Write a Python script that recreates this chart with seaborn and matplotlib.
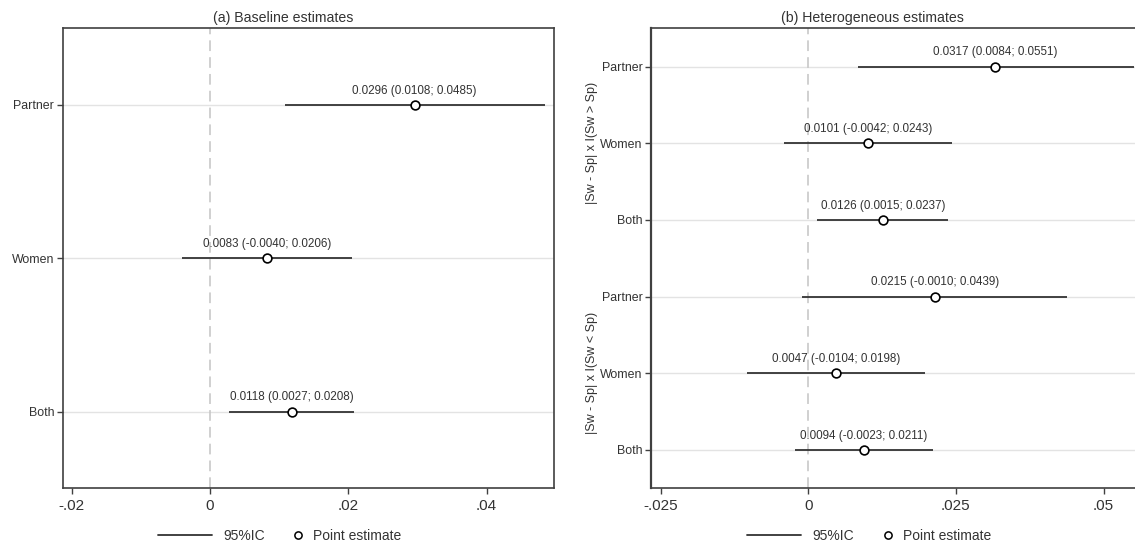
import matplotlib
matplotlib.use("Agg")
import matplotlib.pyplot as plt
from matplotlib.lines import Line2D
import seaborn as sns
import pandas as pd

# ---------------- data ----------------
cats_a = ["Partner", "Women", "Both"]
est_a = [0.0296, 0.0083, 0.0118]
lo_a = [0.0108, -0.0040, 0.0027]
hi_a = [0.0485, 0.0206, 0.0208]

cats_b = ["Partner", "Women", "Both", "Partner", "Women", "Both"]
est_b = [0.0317, 0.0101, 0.0126, 0.0215, 0.0047, 0.0094]
lo_b = [0.0084, -0.0042, 0.0015, -0.0010, -0.0104, -0.0023]
hi_b = [0.0551, 0.0243, 0.0237, 0.0439, 0.0198, 0.0211]
groups_b = ["|Sw - Sp| x I(Sw > Sp)", "|Sw - Sp| x I(Sw < Sp)"]

xticks_a = [-0.02, 0, 0.02, 0.04]
xticklabels_a = ["-.02", "0", ".02", ".04"]
xticks_b = [-0.025, 0, 0.025, 0.05]
xticklabels_b = ["-.025", "0", ".025", ".05"]

titles = ["(a) Baseline estimates", "(b) Heterogeneous estimates"]
legend_labels = ["95%IC", "Point estimate"]

# ---------------- style ----------------
sns.set_style("white")
plt.rcParams["font.family"] = ["Liberation Sans", "DejaVu Sans"]

W, H = 1135, 544
fig = plt.figure(figsize=(W / 100, H / 100), dpi=100)

def px_axes(x0, x1, y0, y1):
    return fig.add_axes([x0 / W, 1 - y1 / H, (x1 - x0) / W, (y1 - y0) / H])

ax_a = px_axes(62.7, 554, 28.3, 488.3)
ax_b = px_axes(651, 1136, 28.3, 488.3)

spine_col = "#404040"
txt_col = "#333333"
line_col = "#333333"

def draw_panel(ax, cats, est, lo, hi, xlim, xticks, xticklabels):
    n = len(cats)
    ypos = list(range(n))
    df = pd.DataFrame({"y": ypos, "est": est, "lo": lo, "hi": hi})
    for y in ypos:
        ax.axhline(y, color="#e3e3e3", lw=1.0, zorder=0)
    ax.axvline(0, color="#c4c4c4", lw=1.1, ls=(0, (7, 4)), zorder=0.5)
    ax.hlines(df["y"], df["lo"], df["hi"], color=line_col, lw=1.3, zorder=2)
    sns.scatterplot(data=df, x="est", y="y", ax=ax, marker="o", s=40,
                    facecolor="white", edgecolor="black", linewidth=1.2,
                    zorder=3, legend=False)
    for yi, e, l, h in zip(ypos, est, lo, hi):
        ax.annotate(f"{e:.4f} ({l:.4f}; {h:.4f})", xy=(e, yi),
                    xytext=(0, 6), textcoords="offset points",
                    ha="center", va="bottom", fontsize=8.4, color=txt_col)
    ax.set_xlim(*xlim)
    ax.set_ylim(n - 0.5, -0.5)
    ax.set_yticks(ypos)
    ax.set_yticklabels(cats, fontsize=8.9, color=txt_col)
    ax.set_xticks(xticks)
    ax.set_xticklabels(xticklabels, fontsize=11, color=txt_col)
    ax.set_xlabel("")
    ax.set_ylabel("")
    ax.tick_params(axis="both", which="major", direction="out", length=4,
                   width=1.0, color=spine_col, left=True, bottom=True)
    ax.tick_params(axis="y", pad=2)
    ax.tick_params(axis="x", pad=4)
    for sp in ax.spines.values():
        sp.set_color(spine_col)
        sp.set_linewidth(1.2)

draw_panel(ax_a, cats_a, est_a, lo_a, hi_a, (-0.0213, 0.04975),
           xticks_a, xticklabels_a)

pxu = 5904.0
draw_panel(ax_b, cats_b, est_b, lo_b, hi_b,
           ((651 - 808.3) / pxu, (1136 - 808.3) / pxu),
           xticks_b, xticklabels_b)
ax_b.spines["right"].set_visible(False)
ax_b.spines["left"].set_linewidth(1.6)

# titles
for cx, t in zip((283, 872), titles):
    fig.text(cx / W, 1 - 18 / H, t, ha="center", va="center",
             fontsize=10.2, color=txt_col)

# group labels
for gi, g in enumerate(groups_b):
    yc = 1 + 3 * gi
    ax_b.text(-0.122, yc, g, transform=ax_b.get_yaxis_transform(),
              rotation=90, ha="center", va="center", fontsize=9,
              color=txt_col)

# legends (two pieces per panel)
h_line = Line2D([0], [0], color=line_col, lw=1.3)
h_pt = Line2D([0], [0], marker="o", ls="none", markerfacecolor="white",
              markeredgecolor="black", markersize=5.2, markeredgewidth=1.1)
for x_line, x_pt in ((158, 291), (747, 881)):
    fig.legend([h_line], [legend_labels[0]], loc="center left",
               bbox_to_anchor=(x_line / W, 1 - 536 / H), frameon=False,
               fontsize=10, handlelength=3.9, handletextpad=0.8,
               borderpad=0, borderaxespad=0, labelcolor=txt_col)
    fig.legend([h_pt], [legend_labels[1]], loc="center left",
               bbox_to_anchor=(x_pt / W, 1 - 536 / H), frameon=False,
               fontsize=10, handlelength=1.0, handletextpad=0.6,
               borderpad=0, borderaxespad=0, labelcolor=txt_col)

fig.savefig("out.png", dpi=100)
